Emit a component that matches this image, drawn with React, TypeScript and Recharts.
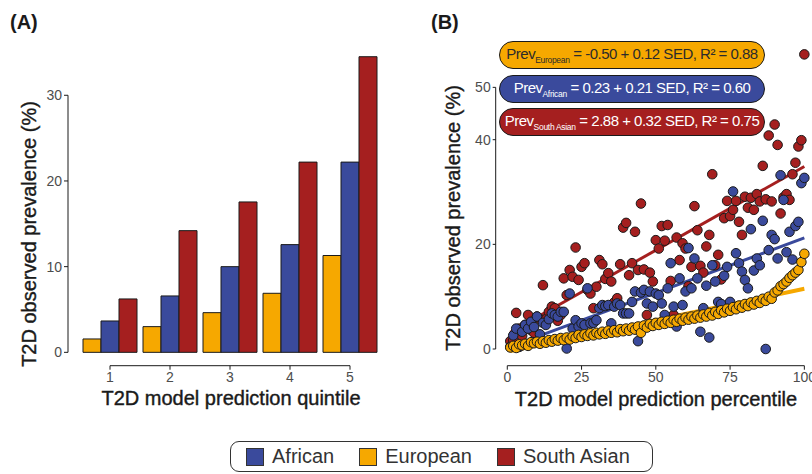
import {
  BarChart,
  Bar,
  ComposedChart,
  Scatter,
  Line,
  XAxis,
  YAxis,
  ZAxis,
  ReferenceLine,
} from "recharts";

const AFRICAN = "#3A4A9C";
const EUROPEAN = "#F6A800";
const SOUTH_ASIAN = "#A51F1F";
const INK = "#1a1a1a";
const TICK = "#4d4d4d";

// (A) observed prevalence by prediction quintile
const quintiles = [1, 2, 3, 4, 5];
const quintileEuropean = [1.56, 3.0, 4.63, 6.89, 11.3];
const quintileAfrican = [3.66, 6.58, 10.0, 12.57, 22.2];
const quintileSouthAsian = [6.23, 14.2, 17.55, 22.2, 34.5];

// (B) observed prevalence by prediction percentile (1..100)
const percentiles = Array.from({ length: 100 }, (_, i) => i + 1);
const pctEuropean = [
  0.3, 0.6, 0.2, 0.9, 0.7, 1.0, 0.6, 1.3, 1.1, 1.4,
  1.0, 1.5, 1.2, 1.7, 1.4, 1.9, 1.6, 2.1, 1.7, 2.2,
  1.8, 2.4, 2.1, 2.7, 2.3, 2.8, 2.5, 3.0, 2.6, 3.1,
  2.8, 3.3, 2.9, 3.5, 3.1, 3.6, 3.2, 3.8, 3.4, 3.9,
  3.5, 4.1, 3.7, 4.3, 3.1, 4.5, 4.1, 4.8, 4.4, 5.0,
  4.6, 5.2, 4.8, 5.4, 5.0, 5.6, 5.2, 5.8, 5.4, 6.0,
  5.6, 6.2, 5.8, 6.4, 6.0, 6.6, 6.2, 6.9, 6.4, 7.1,
  6.7, 7.4, 7.0, 7.7, 7.3, 8.0, 7.6, 8.3, 7.9, 8.6,
  8.2, 8.9, 8.5, 9.2, 8.8, 9.6, 9.2, 10.0, 9.6, 10.8,
  11.2, 12.0, 12.4, 12.9, 13.6, 14.1, 14.6, 15.1, 16.6, 18.2,
];
const pctAfrican = [
  0.4, 2.6, 3.9, 0.4, 3.3, 4.6, 3.9, 5.2, 4.2, 6.2,
  2.8, 5.0, 4.6, 5.7, 6.8, 6.5, 6.2, 7.1, 7.1, 0.1,
  10.6, 3.9, 5.5, 4.3, 4.9, 4.6, 11.6, 4.9, 5.0, 5.5,
  7.8, 8.4, 8.2, 8.4, 4.9, 8.1, 8.7, 8.4, 6.8, 6.8,
  6.8, 9.0, 11.0, 1.5, 10.8, 11.3, 8.7, 11.0, 8.1, 10.6,
  10.3, 8.7, 6.5, 11.6, 16.4, 8.1, 4.3, 13.5, 8.4, 11.0,
  19.3, 11.6, 17.3, 13.5, 3.3, 7.8, 12.1, 2.2, 16.0, 12.9,
  9.0, 8.6, 14.0, 15.7, 9.0, 30.1, 18.3, 16.4, 14.8, 13.2,
  11.6, 22.9, 15.0, 17.3, 16.0, 24.5, 0.0, 18.9, 21.8, 21.0,
  17.3, 33.2, 28.5, 18.5, 22.4, 17.1, 23.5, 24.3, 31.7, 32.7,
];
const pctSouthAsian = [
  1.5, 1.7, 6.9, 3.9, 2.5, 4.6, 6.5, 3.6, 3.1, 6.2,
  5.7, 12.2, 5.7, 7.1, 8.1, 7.8, 5.4, 6.5, 13.5, 10.3,
  15.1, 13.8, 19.4, 13.2, 15.7, 16.4, 11.3, 10.6, 7.8, 11.9,
  17.0, 16.2, 13.4, 14.5, 12.9, 8.9, 9.7, 16.2, 23.2, 24.1,
  14.1, 16.4, 22.4, 15.1, 27.8, 15.2, 6.5, 14.6, 12.9, 20.8,
  19.2, 23.5, 20.7, 23.7, 13.0, 6.5, 21.3, 17.0, 20.2, 19.2,
  12.0, 15.7, 27.3, 22.7, 15.9, 14.6, 19.6, 21.8, 33.4, 16.0,
  18.0, 13.3, 25.0, 28.3, 25.4, 26.6, 28.3, 24.3, 21.8, 29.1,
  27.0, 28.9, 26.6, 29.6, 28.2, 35.0, 28.6, 40.8, 28.2, 42.9,
  39.0, 25.9, 29.0, 29.6, 28.5, 33.4, 35.6, 38.7, 39.9, 56.3,
];

// fitted lines, endpoints at percentile 1 and 100
const fitEuropean = [{ x: 1, y: -0.38 }, { x: 100, y: 11.5 }];
const fitAfrican = [{ x: 1, y: 0.44 }, { x: 100, y: 21.23 }];
const fitSouthAsian = [{ x: 1, y: 3.2 }, { x: 100, y: 34.88 }];

const fitLabels = [
  { group: "European", rest: "= -0.50 + 0.12 SED, R² = 0.88", fill: EUROPEAN, color: "#2b2b2b" },
  { group: "African", rest: "= 0.23 + 0.21 SED, R² = 0.60", fill: AFRICAN, color: "#ffffff" },
  { group: "South Asian", rest: "= 2.88 + 0.32 SED, R² = 0.75", fill: SOUTH_ASIAN, color: "#ffffff" },
];

const legendItems = [
  { name: "African", color: AFRICAN },
  { name: "European", color: EUROPEAN },
  { name: "South Asian", color: SOUTH_ASIAN },
];

const quintileData = quintiles.map((q, i) => ({
  q: String(q),
  qn: q,
  european: quintileEuropean[i],
  african: quintileAfrican[i],
  southAsian: quintileSouthAsian[i],
}));

const toPoints = (values: number[]) => percentiles.map((x, i) => ({ x, y: values[i] }));

const tickStyle = { fill: TICK, fontSize: 14 };

function QuintileChart() {
  return (
    <ComposedChart
      width={400}
      height={420}
      data={quintileData}
      margin={{ top: 40, right: 20, bottom: 24.3, left: 0 }}
      barCategoryGap={3}
      barGap={0}
    >
      <XAxis
        xAxisId="cat"
        dataKey="q"
        padding={{ left: 12, right: 0 }}
        axisLine={false}
        tickSize={4}
        tickLine={{ stroke: INK }}
        tick={tickStyle}
        height={30}
      />
      <XAxis
        xAxisId="num"
        type="number"
        dataKey="qn"
        domain={[0.3, 5.5]}
        allowDataOverflow
        axisLine={false}
        tickLine={false}
        tick={false}
        height={0}
      />
      <YAxis
        domain={[-1.56, 36.45]}
        ticks={[0, 10, 20, 30]}
        allowDataOverflow
        axisLine={false}
        tickSize={4}
        tickLine={{ stroke: INK }}
        tick={tickStyle}
        width={68}
      />
      <Bar xAxisId="cat" dataKey="european" fill={EUROPEAN} stroke={INK} strokeWidth={1} isAnimationActive={false} />
      <Bar xAxisId="cat" dataKey="african" fill={AFRICAN} stroke={INK} strokeWidth={1} isAnimationActive={false} />
      <Bar xAxisId="cat" dataKey="southAsian" fill={SOUTH_ASIAN} stroke={INK} strokeWidth={1} isAnimationActive={false} />
      <ReferenceLine
        xAxisId="num"
        segment={[{ x: 0.3, y: 0 }, { x: 0.3, y: 30 }]}
        stroke={INK}
        strokeWidth={1}
        ifOverflow="visible"
      />
      <ReferenceLine
        xAxisId="num"
        segment={[{ x: 1, y: -1.56 }, { x: 5, y: -1.56 }]}
        stroke={INK}
        strokeWidth={1}
        ifOverflow="visible"
      />
    </ComposedChart>
  );
}

function PercentileChart() {
  return (
    <ComposedChart width={430} height={420} margin={{ top: 40, right: 11.1, bottom: 24.3, left: 35.7 }}>
      <XAxis
        type="number"
        dataKey="x"
        domain={[-3.9, 104.9]}
        ticks={[0, 25, 50, 75, 100]}
        allowDataOverflow
        axisLine={false}
        tickSize={4}
        tickLine={{ stroke: INK }}
        tick={tickStyle}
        height={30}
      />
      <YAxis
        type="number"
        dataKey="y"
        domain={[-3.19, 59.05]}
        ticks={[0, 20, 40, 50]}
        allowDataOverflow
        axisLine={false}
        tickSize={3}
        tickLine={{ stroke: INK }}
        tick={tickStyle}
        width={60}
      />
      <ZAxis range={[72, 72]} />
      <ReferenceLine segment={[{ x: -3.9, y: 0 }, { x: -3.9, y: 50 }]} stroke={INK} ifOverflow="visible" />
      <ReferenceLine segment={[{ x: 0, y: -3.19 }, { x: 100, y: -3.19 }]} stroke={INK} ifOverflow="visible" />
      <Scatter data={toPoints(pctSouthAsian)} fill={SOUTH_ASIAN} stroke={INK} strokeWidth={1} isAnimationActive={false} />
      <Scatter data={toPoints(pctAfrican)} fill={AFRICAN} stroke={INK} strokeWidth={1} isAnimationActive={false} />
      <Scatter data={toPoints(pctEuropean)} fill={EUROPEAN} stroke={INK} strokeWidth={1} isAnimationActive={false} />
      <Line data={fitSouthAsian} dataKey="y" stroke={SOUTH_ASIAN} strokeWidth={3} dot={false} isAnimationActive={false} />
      <Line data={fitAfrican} dataKey="y" stroke={AFRICAN} strokeWidth={3} dot={false} isAnimationActive={false} />
      <Line data={fitEuropean} dataKey="y" stroke={EUROPEAN} strokeWidth={4} dot={false} isAnimationActive={false} />
    </ComposedChart>
  );
}

function Title({ text, x, y, rotate }: { text: string; x: number; y: number; rotate?: boolean }) {
  return (
    <div
      style={{
        position: "absolute",
        left: x,
        top: y,
        transform: `translate(-50%, -50%)${rotate ? " rotate(-90deg)" : ""}`,
        whiteSpace: "nowrap",
        fontSize: 20,
        color: INK,
        WebkitTextStroke: `0.4px ${INK}`,
      }}
    >
      {text}
    </div>
  );
}

export default function App() {
  return (
    <div
      style={{
        position: "absolute",
        left: 0,
        top: 0,
        width: 812,
        height: 474,
        overflow: "hidden",
        background: "#fff",
        fontFamily: "'Liberation Sans', Arial, sans-serif",
      }}
    >
      <div style={{ position: "absolute", left: 0, top: 0 }}>
        <QuintileChart />
      </div>
      <div style={{ position: "absolute", left: 400, top: 0 }}>
        <PercentileChart />
      </div>

      <div style={{ position: "absolute", left: 10, top: 11, fontSize: 20, fontWeight: 700, color: INK }}>(A)</div>
      <div style={{ position: "absolute", left: 431, top: 11, fontSize: 20, fontWeight: 700, color: INK }}>(B)</div>

      <Title text="T2D observed prevalence (%)" x={29} y={234} rotate />
      <Title text="T2D model prediction quintile" x={231} y={398} />
      <Title text="T2D observed prevalence (%)" x={453} y={218} rotate />
      <Title text="T2D model prediction percentile" x={656} y={399} />

      {fitLabels.map((f, i) => (
        <div
          key={f.group}
          style={{
            position: "absolute",
            left: 499,
            top: 41 + i * 33.5,
            width: 266,
            height: 28,
            boxSizing: "border-box",
            border: `1px solid ${INK}`,
            borderRadius: 14,
            background: f.fill,
            color: f.color,
            display: "flex",
            alignItems: "center",
            justifyContent: "center",
            fontSize: 15,
            letterSpacing: -0.5,
            whiteSpace: "nowrap",
          }}
        >
          <span>
            Prev
            <sub style={{ fontSize: 8.5, letterSpacing: -0.3 }}>{f.group}</sub> {f.rest}
          </span>
        </div>
      ))}

      <div
        style={{
          position: "absolute",
          left: 230,
          top: 441,
          width: 423,
          height: 31,
          boxSizing: "border-box",
          border: "1px solid #333",
          borderRadius: 9,
          display: "flex",
          alignItems: "center",
          paddingLeft: 15,
          gap: 25,
          fontSize: 20,
          color: "#333",
        }}
      >
        {legendItems.map((item) => (
          <div key={item.name} style={{ display: "flex", alignItems: "center", gap: 8 }}>
            <div style={{ width: 18, height: 18, boxSizing: "border-box", background: item.color, border: "1px solid #333" }} />
            <span>{item.name}</span>
          </div>
        ))}
      </div>
    </div>
  );
}
